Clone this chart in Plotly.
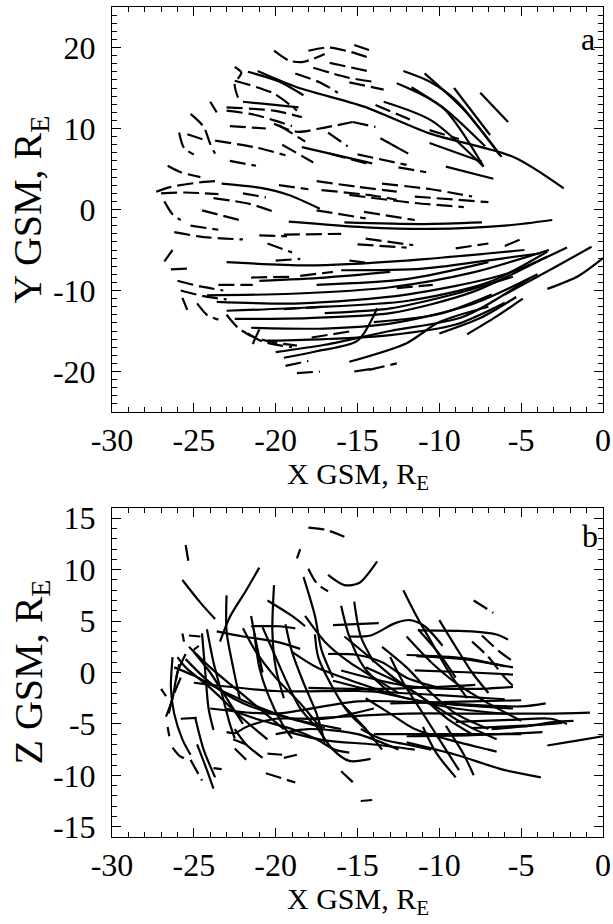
import plotly.graph_objects as go

# Tick positions shared by both panels
X_TICKS = [-30, -25, -20, -15, -10, -5, 0]
Y_TICKS_A = [-20, -10, 0, 10, 20]
Z_TICKS_B = [-15, -10, -5, 0, 5, 10, 15]

# Panel a: track projections in the X-Y GSM plane (R_E)
A_SOLID = [
    [(-21.1, 17.1), (-18.7, 15.1), (-14.6, 12.7), (-10.6, 9.4), (-5.5, 6.5), (-2.4, 2.6)],
    [(-12.2, 17.1), (-10.6, 15.8), (-9.0, 13.5), (-6.2, 6.5)],
    [(-10.9, 16.8), (-8.5, 12.3), (-6.3, 6.7)],
    [(-11.7, 15.1), (-9.6, 12.3), (-7.2, 7.8)],
    [(-12.6, 15.6), (-9.8, 12.6), (-7.3, 5.3)],
    [(-9.1, 15.0), (-6.9, 9.2)],
    [(-7.5, 14.4), (-5.8, 10.8)],
    [(-13.4, 13.3), (-10.5, 11.0), (-7.3, 5.3)],
    [(-10.6, 8.2), (-7.4, 5.9)],
    [(-9.6, 5.3), (-6.7, 3.8)],
    [(-18.4, 7.7), (-14.1, 5.7)],
    [(-13.6, 8.8), (-11.9, 6.9)],
    [(-21.7, 17.0), (-19.8, 15.8), (-18.3, 14.1)],
    [(-22.0, 13.3), (-20.5, 13.0), (-18.6, 12.6)],
    [(-23.3, 3.2), (-21.0, 2.7), (-19.2, 1.8), (-17.3, 0.1)],
    [(-19.2, -1.5), (-14.5, -2.2), (-10.5, -2.4), (-6.0, -2.0), (-3.1, -1.3)],
    [(-15.8, -1.6), (-11.0, -1.8), (-7.4, -1.6)],
    [(-23.0, -6.5), (-18.0, -6.9), (-12.0, -6.3), (-4.8, -5.0)],
    [(-24.2, -10.6), (-19.0, -10.4), (-13.0, -9.6), (-8.0, -7.8), (-3.3, -5.0)],
    [(-23.6, -11.4), (-18.5, -11.6), (-12.0, -10.5), (-6.0, -8.0), (-2.2, -4.7)],
    [(-23.0, -12.5), (-18.0, -12.1), (-12.0, -11.3), (-7.0, -9.0), (-3.4, -5.2)],
    [(-22.5, -13.5), (-18.0, -13.4), (-13.0, -12.8), (-8.0, -10.2), (-3.4, -5.8)],
    [(-21.5, -14.6), (-17.0, -14.7), (-13.0, -14.1), (-8.0, -11.7), (-4.0, -8.0)],
    [(-20.5, -16.2), (-17.0, -16.0), (-13.0, -15.5), (-9.0, -14.2), (-6.0, -11.5)],
    [(-20.0, -17.6), (-17.0, -16.7), (-13.0, -15.0), (-8.5, -13.2), (-4.5, -8.5)],
    [(-19.5, -18.3), (-17.5, -17.5), (-15.0, -16.2), (-13.8, -12.2)],
    [(-15.5, -18.8), (-12.0, -16.5), (-10.0, -13.9), (-7.0, -12.0)],
    [(-17.0, -12.8), (-13.0, -12.2), (-9.0, -10.4), (-5.5, -8.3)],
    [(-14.0, -13.9), (-10.0, -12.9), (-6.8, -10.5)],
    [(-10.0, -15.3), (-7.5, -13.4), (-5.3, -10.8)],
    [(-8.3, -15.4), (-6.5, -13.2), (-4.9, -11.0)],
    [(-6.0, -10.5), (-3.0, -7.2), (-0.7, -4.6)],
    [(-3.4, -9.8), (-1.5, -8.2), (0.0, -6.0)],
    [(-16.0, -7.5), (-11.0, -7.3), (-6.0, -6.0), (-3.8, -5.4)],
    [(-17.5, -9.3), (-12.0, -8.6), (-7.0, -6.5)],
    [(-21.0, -8.8), (-17.0, -8.4), (-13.0, -7.7)],
]

A_DASHED = [
    [(-20.1, 19.6), (-19.2, 18.4), (-18.4, 18.2), (-17.7, 18.6), (-17.0, 19.2)],
    [(-18.0, 19.6), (-16.8, 20.0), (-15.5, 19.5), (-14.1, 18.6)],
    [(-15.2, 20.3), (-14.3, 19.7)],
    [(-17.7, 17.5), (-15.6, 16.3), (-13.8, 15.7)],
    [(-18.8, 16.8), (-17.2, 15.6), (-16.2, 14.4)],
    [(-22.5, 17.6), (-22.1, 16.9), (-22.5, 15.5), (-22.3, 13.8)],
    [(-22.5, 15.9), (-20.1, 14.3), (-18.7, 12.2)],
    [(-23.0, 12.6), (-20.1, 12.2), (-18.4, 11.4)],
    [(-23.0, 12.2), (-21.3, 11.7), (-20.1, 11.0), (-19.0, 10.3)],
    [(-22.8, 10.3), (-20.6, 10.0)],
    [(-20.1, 10.6), (-18.7, 9.6), (-17.3, 10.0), (-15.3, 10.8)],
    [(-19.8, 10.4), (-18.2, 8.4)],
    [(-19.6, 8.0), (-17.7, 5.8)],
    [(-23.7, 8.5), (-21.3, 7.7), (-19.4, 6.7)],
    [(-22.8, 6.0), (-21.2, 5.4)],
    [(-16.8, 9.5), (-15.6, 7.8)],
    [(-25.2, 11.8), (-24.4, 10.2), (-24.0, 8.1), (-23.7, 6.9)],
    [(-25.9, 9.5), (-25.6, 7.6), (-25.0, 6.8)],
    [(-25.4, 9.3), (-24.2, 8.5)],
    [(-24.0, 13.3), (-23.6, 12.0)],
    [(-26.6, 5.4), (-25.8, 4.6), (-24.6, 4.0)],
    [(-27.3, 2.2), (-26.4, 2.8), (-24.4, 3.4), (-23.7, 3.5)],
    [(-27.0, 2.0), (-25.5, 2.1), (-23.5, 1.9)],
    [(-26.8, 1.0), (-26.3, -0.6), (-25.8, -1.3)],
    [(-24.5, -0.1), (-22.2, -1.3)],
    [(-26.2, -2.8), (-24.4, -3.4), (-22.0, -3.7)],
    [(-25.2, -2.0), (-23.5, -2.5)],
    [(-23.8, 1.4), (-21.6, 0.7), (-20.1, -0.3)],
    [(-22.0, 2.0), (-20.6, 1.5)],
    [(-21.0, -3.2), (-19.3, -3.3)],
    [(-20.5, -4.2), (-19.0, -5.3)],
    [(-26.8, -6.4), (-26.3, -5.0)],
    [(-26.4, -7.4), (-25.3, -7.3)],
    [(-26.0, -8.8), (-24.6, -9.5), (-23.2, -10.0)],
    [(-25.8, -10.0), (-24.4, -10.7), (-23.0, -11.1)],
    [(-25.7, -10.9), (-25.4, -12.4)],
    [(-24.8, -11.6), (-24.2, -13.0), (-23.5, -13.6)],
    [(-23.0, -13.0), (-22.3, -14.6), (-21.3, -15.8), (-20.1, -16.4), (-18.7, -16.8)],
    [(-21.7, -15.3), (-20.8, -16.3), (-19.0, -17.0)],
    [(-21.4, -16.6), (-21.0, -14.8)],
    [(-19.4, -19.3), (-18.0, -18.7)],
    [(-18.7, -20.2), (-17.3, -20.0)],
    [(-15.2, -20.0), (-14.2, -19.7)],
    [(-14.3, -19.8), (-12.6, -19.0)],
    [(-17.8, -15.8), (-15.3, -15.0)],
    [(-21.5, -8.4), (-19.0, -8.3)],
    [(-23.5, -9.3), (-21.4, -9.3)],
    [(-18.5, -8.2), (-16.5, -7.7)],
    [(-19.5, -12.3), (-17.0, -12.0)],
    [(-12.6, -9.7), (-10.4, -9.3)],
    [(-15.0, -4.3), (-12.0, -4.7)],
    [(-20.0, -6.3), (-18.5, -6.1)],
    [(-15.5, -6.3), (-14.4, -6.6)],
    [(-9.0, -4.8), (-7.0, -4.2)],
    [(-6.0, -4.5), (-4.8, -3.5)],
    [(-19.8, 3.0), (-18.0, 2.5)],
    [(-17.5, 3.5), (-15.0, 2.8), (-12.6, 2.2)],
    [(-17.2, 2.4), (-14.0, 1.7), (-12.6, 1.2)],
    [(-15.5, 1.8), (-11.5, 0.8), (-8.5, 0.3)],
    [(-13.5, 3.2), (-10.5, 2.5), (-8.0, 1.6)],
    [(-11.5, 1.6), (-7.0, 0.9)],
    [(-14.6, -0.3), (-11.5, -1.3)],
    [(-17.5, -0.1), (-14.5, -1.1)],
    [(-19.5, -3.1), (-16.0, -3.0)],
    [(-14.5, -3.6), (-11.6, -4.4)],
    [(-15.0, 6.8), (-12.0, 5.5)],
    [(-12.5, 5.2), (-10.8, 4.6)],
    [(-10.6, 9.8), (-8.8, 8.7)],
    [(-13.9, 12.9), (-11.8, 11.1)],
    [(-15.5, 15.7), (-13.4, 14.8)],
    [(-16.7, 18.1), (-14.4, 17.1)],
    [(-15.3, 10.8), (-13.9, 10.2)],
    [(-16.7, 6.9), (-14.1, 5.5)],
]

# Panel b: track projections in the X-Z GSM plane (R_E)
B_SOLID = [
    [(-16.8, 9.5), (-15.8, 8.5), (-14.9, 8.7), (-13.8, 10.8)],
    [(-25.7, 9.0), (-24.6, 6.8), (-23.7, 5.2)],
    [(-21.0, 10.2), (-21.8, 8.0), (-22.8, 5.4), (-23.4, 3.0)],
    [(-23.0, 7.5), (-23.0, 4.0), (-22.6, 0.5), (-22.2, -2.5)],
    [(-20.1, 8.5), (-20.2, 4.0), (-20.0, 0.5), (-19.5, -2.5)],
    [(-18.3, 9.3), (-17.6, 5.5), (-17.2, 2.2), (-16.5, -0.5)],
    [(-20.5, 7.0), (-19.0, 5.5), (-18.2, 4.5)],
    [(-15.2, 6.9), (-14.8, 3.5), (-14.0, 1.0)],
    [(-16.0, 6.5), (-15.5, 3.5), (-14.6, 0.5), (-13.0, -2.0)],
    [(-12.2, 8.0), (-11.4, 5.5), (-10.5, 3.0), (-9.4, 0.0), (-8.3, -2.5)],
    [(-10.0, 5.1), (-9.0, 2.5), (-8.0, 0.0), (-7.0, -2.0)],
    [(-11.3, 4.2), (-10.0, 1.8), (-9.0, -0.5)],
    [(-13.0, 1.5), (-12.2, -1.0), (-11.0, -4.0), (-10.0, -6.5), (-8.8, -9.5)],
    [(-9.6, -5.2), (-8.5, -8.0), (-7.9, -10.0)],
    [(-11.0, -5.3), (-10.2, -7.8), (-9.0, -10.2)],
    [(-12.0, -6.8), (-9.0, -8.0), (-6.0, -9.5), (-3.8, -10.2)],
    [(-14.8, -5.5), (-13.5, -6.5), (-12.0, -7.0), (-10.5, -7.5)],
    [(-17.6, -5.0), (-16.5, -7.5), (-15.5, -8.6), (-14.2, -8.4)],
    [(-24.8, -7.0), (-24.2, -9.5), (-23.8, -11.3)],
    [(-24.9, -4.5), (-24.4, -7.5), (-23.7, -10.2)],
    [(-26.3, 1.5), (-26.4, -1.5), (-26.2, -4.0), (-25.7, -6.5), (-25.2, -8.0)],
    [(-22.5, -5.5), (-21.8, -7.0), (-20.8, -8.3)],
    [(-26.7, -4.3), (-26.3, -2.5), (-26.0, 0.0), (-25.5, 1.8)],
    [(-25.0, 2.0), (-24.0, 0.0), (-23.0, -2.5), (-22.0, -5.0)],
    [(-25.0, -1.0), (-20.0, -1.8), (-15.0, -1.8), (-10.0, -2.2), (-6.0, -2.6)],
    [(-24.0, -3.5), (-20.0, -4.0), (-15.0, -2.8), (-10.0, -3.0), (-5.0, -3.3), (-3.5, -3.0)],
    [(-18.0, -4.5), (-12.0, -4.0), (-8.0, -4.0), (-3.5, -4.0), (-0.8, -3.9)],
    [(-13.0, -3.0), (-8.0, -2.8), (-5.0, -2.7)],
    [(-12.0, -6.2), (-8.0, -6.1), (-3.7, -5.8)],
    [(-14.0, -6.0), (-10.0, -6.0), (-5.0, -6.0)],
    [(-9.0, -4.8), (-5.5, -4.6), (-3.2, -4.5), (-2.2, -5.0)],
    [(-8.0, -5.4), (-4.0, -5.1), (-2.5, -4.9)],
    [(-6.8, -5.5), (-4.5, -5.2), (-3.0, -4.8), (-1.8, -4.7)],
    [(-16.0, 0.2), (-12.0, -1.3), (-8.0, -1.6), (-5.5, -1.4)],
    [(-11.4, 1.6), (-8.5, 1.3), (-5.5, 0.5)],
    [(-11.5, 0.2), (-8.0, 0.0), (-5.5, -0.2)],
    [(-18.0, -1.5), (-14.0, -1.6), (-10.0, -1.4), (-7.8, -1.2)],
    [(-16.5, 4.6), (-13.7, 4.8)],
    [(-15.5, 3.5), (-14.2, 3.6), (-12.7, 4.8), (-11.8, 5.1), (-10.9, 4.5), (-9.8, 2.6)],
    [(-11.3, 4.1), (-8.0, 4.0), (-6.5, 3.7), (-5.8, 3.2)],
    [(-12.0, 1.7), (-8.5, 1.4), (-6.0, 0.6)],
    [(-23.0, -5.8), (-22.5, -5.9), (-21.8, -5.3), (-20.0, -4.5), (-17.0, -4.5), (-14.0, -3.5)],
    [(-24.2, 4.2), (-23.8, 1.0), (-23.3, -2.0), (-22.8, -5.0), (-22.5, -6.4)],
    [(-21.3, 3.8), (-21.0, 0.5), (-20.5, -2.0), (-19.6, -5.0), (-19.0, -6.4)],
    [(-22.0, 4.3), (-21.2, 2.0), (-20.0, -0.5), (-18.5, -3.0), (-17.2, -5.5)],
    [(-25.3, 2.5), (-24.0, 0.5), (-22.5, -1.5), (-21.0, -3.5), (-19.5, -5.5)],
    [(-24.5, 3.8), (-24.3, 0.0), (-24.1, -3.5), (-23.8, -5.6)],
    [(-20.8, 4.4), (-20.0, 1.5), (-19.3, -1.0), (-18.5, -3.5), (-17.7, -5.0)],
    [(-19.4, 4.7), (-19.0, 2.0), (-18.3, -1.0), (-17.5, -4.0), (-17.0, -6.8)],
    [(-17.6, 3.7), (-17.4, 1.5), (-16.5, -1.5), (-15.5, -4.0), (-14.5, -5.5)],
    [(-18.2, 5.5), (-17.0, 3.0), (-15.5, 1.0), (-14.0, -0.5), (-12.5, -2.0)],
    [(-21.5, 5.5), (-21.2, 3.0), (-20.8, 0.0)],
    [(-26.0, 1.5), (-25.5, 0.5), (-24.0, -1.5), (-22.0, -4.5), (-20.5, -6.5)],
    [(-25.5, 1.3), (-24.0, -1.0), (-22.0, -3.0), (-19.0, -4.5), (-16.0, -5.5)],
    [(-26.2, 0.5), (-25.0, -0.3), (-23.0, -2.0), (-20.0, -4.0), (-17.0, -5.4)],
    [(-23.6, 4.0), (-22.0, 3.5), (-20.0, 3.0), (-18.5, 2.3)],
    [(-21.5, 4.5), (-19.8, 4.5), (-18.8, 4.3)],
    [(-16.8, 1.8), (-15.0, 1.7), (-13.5, 1.0), (-12.0, -0.5), (-10.0, -1.5)],
    [(-19.0, 2.0), (-17.5, 0.5), (-15.0, -1.0), (-12.0, -2.5), (-9.0, -3.5), (-6.0, -4.0)],
    [(-16.5, -0.8), (-14.0, -1.8), (-11.0, -2.8), (-8.5, -3.2), (-5.5, -3.5)],
    [(-14.5, 0.5), (-12.5, -1.0), (-10.5, -3.0), (-8.5, -5.0), (-6.5, -6.5)],
    [(-13.5, 2.5), (-12.0, 0.5), (-10.5, -2.0), (-9.0, -4.0), (-7.0, -5.5)],
    [(-12.0, 3.5), (-10.5, 1.0), (-9.0, -1.0), (-7.0, -3.0), (-5.0, -4.7)],
    [(-15.8, 3.5), (-14.5, 1.8), (-12.8, -0.5), (-11.0, -2.5), (-9.5, -4.5), (-8.0, -6.0)],
    [(-14.5, -2.5), (-13.0, -4.0), (-11.5, -5.5), (-9.5, -6.5), (-7.0, -7.5), (-6.5, -7.7)],
    [(-20.0, -6.0), (-18.0, -5.5), (-15.0, -6.0), (-12.5, -7.5)],
    [(-23.0, -3.5), (-21.0, -4.6), (-19.0, -5.5), (-17.5, -6.5), (-16.4, -7.5), (-15.5, -7.8)],
    [(-19.2, -5.8), (-17.0, -6.6), (-14.0, -7.0), (-11.5, -7.5)],
    [(-3.4, -7.1), (-1.5, -6.6), (0.0, -6.2)],
    [(-16.0, -3.0), (-14.5, -5.5), (-13.5, -7.5)],
]

B_DASHED = [
    [(-18.0, 14.1), (-17.0, 13.9), (-15.8, 13.2)],
    [(-18.5, 12.0), (-18.7, 11.1)],
    [(-25.5, 12.4), (-25.3, 10.5)],
    [(-18.0, 10.1), (-17.5, 8.7), (-16.8, 7.9)],
    [(-7.9, 7.0), (-6.7, 5.8)],
    [(-7.4, 3.6), (-6.3, 2.0), (-5.6, 1.2)],
    [(-8.0, 3.0), (-7.0, 1.5), (-6.0, -0.5), (-5.5, -1.3)],
    [(-14.8, -12.5), (-14.1, -12.4)],
    [(-16.0, -9.6), (-15.2, -10.8)],
    [(-20.6, -9.8), (-18.8, -10.7)],
    [(-19.5, -8.3), (-18.7, -8.0)],
    [(-20.5, -7.9), (-19.6, -8.0)],
    [(-22.5, -7.4), (-21.6, -8.8)],
    [(-22.6, -6.5), (-21.8, -7.0)],
    [(-23.8, -9.3), (-23.3, -9.4)],
    [(-25.2, -8.5), (-24.5, -10.5)],
    [(-26.3, -7.3), (-25.8, -8.2), (-25.3, -8.4)],
    [(-27.0, -1.6), (-26.7, -2.3)],
    [(-26.6, -5.3), (-26.5, -6.2)],
    [(-25.8, -4.5), (-24.6, -4.4)],
    [(-25.7, 3.8), (-25.6, 3.0)],
    [(-25.3, 3.6), (-24.6, 3.5)],
    [(-25.0, 2.2), (-24.7, 2.6)],
    [(-25.9, 0.8), (-26.1, -0.8)],
    [(-25.8, -0.5), (-26.3, -2.5), (-26.6, -4.5)],
]

DASH = "16px,6px"

fig = go.Figure()


def add_tracks(tracks, xa, ya, dash):
    for tr in tracks:
        fig.add_trace(go.Scatter(
            x=[p[0] for p in tr], y=[p[1] for p in tr],
            xaxis=xa, yaxis=ya, mode="lines",
            line=dict(color="black", width=2.2, dash=dash, shape="spline", smoothing=0.8),
            hoverinfo="skip", showlegend=False,
        ))


add_tracks(A_SOLID, "x", "y", "solid")
add_tracks(A_DASHED, "x", "y", DASH)
add_tracks(B_SOLID, "x2", "y2", "solid")
add_tracks(B_DASHED, "x2", "y2", DASH)

FONT = "Liberation Serif"
TICK_FONT = dict(family=FONT, size=32, color="black")
XTITLE_FONT = dict(family=FONT, size=30, color="black")
YTITLE_FONT = dict(family=FONT, size=40, color="black")

W, H = 613, 924
PX_LEFT, PX_RIGHT = 112, 603
PX_A_TOP, PX_A_BOT = 7, 412
PX_B_TOP, PX_B_BOT = 508, 837


def axis_style(tickvals, rng, standoff):
    return dict(
        range=rng, tickmode="array", tickvals=tickvals,
        ticktext=[str(v) for v in tickvals],
        showline=True, linecolor="black", linewidth=1, mirror="allticks",
        ticks="inside", ticklen=9, tickwidth=1, tickcolor="black",
        showgrid=False, zeroline=False, tickfont=TICK_FONT,
        ticklabelstandoff=standoff, automargin=False,
        minor=dict(tickmode="linear", tick0=0, dtick=1, ticks="inside",
                   ticklen=5, tickwidth=1, tickcolor="black", showgrid=False),
    )


XDOM = [PX_LEFT / W, PX_RIGHT / W]
YDOM_A = [1 - PX_A_BOT / H, 1 - PX_A_TOP / H]
YDOM_B = [1 - PX_B_BOT / H, 1 - PX_B_TOP / H]

xa = axis_style(X_TICKS, [-30, 0], 0)
xa.update(domain=XDOM, anchor="y")
ya = axis_style(Y_TICKS_A, [-25, 25], 9)
ya.update(domain=YDOM_A, anchor="x")
xb = axis_style(X_TICKS, [-30, 0], 0)
xb.update(domain=XDOM, anchor="y2")
yb = axis_style(Z_TICKS_B, [-16, 16], 9)
yb.update(domain=YDOM_B, anchor="x2")

x_mid = (PX_LEFT + PX_RIGHT) / 2 / W


def title_x(px_top):
    return dict(text="X GSM, R<sub>E</sub>", x=x_mid, y=1 - px_top / H,
                xref="paper", yref="paper", xanchor="center", yanchor="top",
                showarrow=False, font=XTITLE_FONT)


def title_y(text, px_mid):
    return dict(text=text, x=30 / W, y=1 - px_mid / H, xref="paper", yref="paper",
                xanchor="center", yanchor="middle", textangle=-90,
                showarrow=False, font=YTITLE_FONT)


fig.update_layout(
    width=W, height=H,
    margin=dict(l=0, r=0, t=0, b=0),
    paper_bgcolor="white", plot_bgcolor="white",
    xaxis=xa, yaxis=ya, xaxis2=xb, yaxis2=yb,
    annotations=[
        title_x(PX_A_BOT + 43),
        title_x(PX_B_BOT + 43),
        title_y("Y GSM, R<sub>E</sub>", (PX_A_TOP + PX_A_BOT) / 2),
        title_y("Z GSM, R<sub>E</sub>", (PX_B_TOP + PX_B_BOT) / 2),
        dict(text="a", x=-0.9, y=21.0, xref="x", yref="y", showarrow=False,
             font=TICK_FONT, xanchor="center", yanchor="middle"),
        dict(text="b", x=-0.8, y=13.3, xref="x2", yref="y2", showarrow=False,
             font=TICK_FONT, xanchor="center", yanchor="middle"),
    ],
)

fig.write_html("out.html")
